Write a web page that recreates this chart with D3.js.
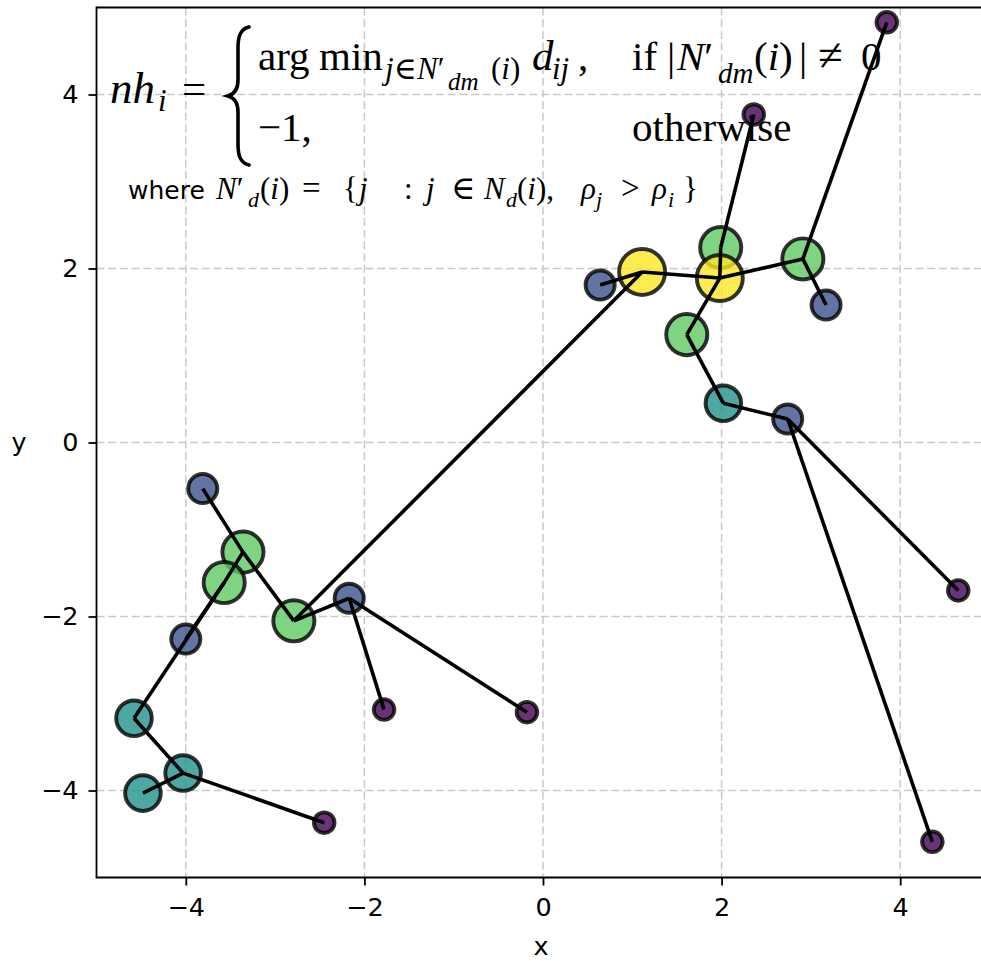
<!DOCTYPE html>
<html><head><meta charset="utf-8">
<script src="https://cdn.jsdelivr.net/npm/d3@7"></script>
<style>body{margin:0;background:#fff} svg{display:block}</style>
</head><body>
<script>
// ---- data ----
const pointX = [3.85, 2.36, 1.99, 1.98, 1.11, 0.64, 2.91, 3.17, 1.61, 2.02, 2.74, 4.65, 4.36,
                -3.81, -3.36, -3.57, -2.79, -2.17, -4.00, -4.58, -4.03, -4.48, -2.45, -1.78, -0.18];
const pointY = [4.83, 3.77, 2.24, 1.89, 1.96, 1.81, 2.11, 1.58, 1.24, 0.45, 0.27, -1.70, -4.59,
                -0.53, -1.26, -1.61, -2.05, -1.79, -2.26, -3.17, -3.80, -4.03, -4.37, -3.07, -3.10];
const density = [1, 1, 4, 5, 5, 2, 4, 2, 4, 3, 2, 1, 1, 2, 4, 4, 4, 2, 2, 3, 3, 3, 1, 1, 1];
// index of nearest higher-density neighbour (nh_i), -1 = none
const nearestHigher = [6, 2, 3, -1, 3, 4, 3, 6, 3, 8, 9, 10, 10, 14, 16, 14, 4, 16, 15, 15, 19, 20, 20, 17, 17];
const xTicks = [-4, -2, 0, 2, 4];
const yTicks = [-4, -2, 0, 2, 4];
const xLabel = "x", yLabel = "y";

// ---- layout ----
const W = 981, H = 961;
const svg = d3.select("body").append("svg").attr("width", W).attr("height", H);
const x = d3.scaleLinear().domain([-5, 5]).range([96.5, 989.5]);
const y = d3.scaleLinear().domain([-5, 5]).range([877.5, 7.5]);
const color = d3.scaleSequential(d3.interpolateViridis).domain([1, 5]);
const radius = d3.scaleSqrt().domain([0, 5]).range([0, 23]);
const fmt = d => d < 0 ? "\u2212" + Math.abs(d) : String(d);

// grid
const grid = svg.append("g").attr("stroke", "#c9c9c9").attr("stroke-width", 1.5)
  .attr("stroke-dasharray", "8,3.7");
grid.selectAll(".gx").data(xTicks).join("line")
  .attr("x1", d => x(d)).attr("x2", d => x(d)).attr("y1", y(5)).attr("y2", y(-5));
grid.selectAll(".gy").data(yTicks).join("line")
  .attr("y1", d => y(d)).attr("y2", d => y(d)).attr("x1", x(-5)).attr("x2", x(5));

// axes
const fontTick = "'DejaVu Sans', sans-serif";
const FT = 25.5;
const ax = svg.append("g").attr("transform", `translate(0,${y(-5)})`)
  .call(d3.axisBottom(x).tickValues(xTicks).tickFormat(fmt).tickSize(8).tickPadding(12));
const ay = svg.append("g").attr("transform", `translate(${x(-5)},0)`)
  .call(d3.axisLeft(y).tickValues(yTicks).tickFormat(fmt).tickSize(8).tickPadding(10));
[ax, ay].forEach(g => {
  g.select(".domain").remove();
  g.selectAll(".tick line").attr("stroke", "#000").attr("stroke-width", 1.8);
  g.selectAll(".tick text").attr("font-family", fontTick).attr("font-size", FT).attr("fill", "#000");
});

// points
svg.append("g").selectAll("circle").data(d3.range(pointX.length)).join("circle")
  .attr("cx", i => x(pointX[i])).attr("cy", i => y(pointY[i]))
  .attr("r", i => radius(density[i]))
  .attr("fill", i => color(density[i])).attr("fill-opacity", 0.8)
  .attr("stroke", "#000").attr("stroke-opacity", 0.8).attr("stroke-width", 3.9);

// links to nearest higher-density neighbour
svg.append("g").attr("stroke", "#000").attr("stroke-width", 3.6).attr("stroke-linecap", "butt")
  .selectAll("line").data(d3.range(pointX.length).filter(i => nearestHigher[i] >= 0)).join("line")
  .attr("x1", i => x(pointX[i])).attr("y1", i => y(pointY[i]))
  .attr("x2", i => x(pointX[nearestHigher[i]])).attr("y2", i => y(pointY[nearestHigher[i]]));

// spines
const sp = svg.append("g").attr("stroke", "#000").attr("stroke-width", 1.8).attr("fill", "none");
sp.append("line").attr("x1", x(-5)).attr("x2", x(-5)).attr("y1", y(5) - 0.9).attr("y2", y(-5) + 0.9);
sp.append("line").attr("x1", x(-5)).attr("x2", x(5)).attr("y1", y(-5)).attr("y2", y(-5));
sp.append("line").attr("x1", x(-5)).attr("x2", x(5)).attr("y1", y(5)).attr("y2", y(5));
sp.append("line").attr("x1", x(5)).attr("x2", x(5)).attr("y1", y(5)).attr("y2", y(-5));

// axis labels
svg.append("text").attr("x", (x(-5) + x(5)) / 2 - 2).attr("y", 955).attr("text-anchor", "middle")
  .attr("font-family", fontTick).attr("font-size", FT).text(xLabel);
svg.append("text").attr("x", 19).attr("y", 451).attr("text-anchor", "middle")
  .attr("font-family", fontTick).attr("font-size", FT).text(yLabel);

// ---- formula annotation ----
const MATH = "'Liberation Serif', 'DejaVu Serif', serif";
const ann = svg.append("g").attr("font-family", MATH).attr("fill", "#000");
function put(xp, yp, size, parts) {
  const t = ann.append("text").attr("x", xp).attr("y", yp).attr("font-size", size);
  parts.forEach(p => {
    const s = t.append("tspan").text(p[0]);
    if (p[1]) s.attr("font-style", "italic");
  });
  return t;
}
const T = 41, S = 31, SS = 25;
// left-hand side
put(110, 103, 45, [["nh", 1]]);
put(158, 111, S, [["i", 1]]);
put(182, 103, T + 2, [["=", 0]]);
// brace
ann.append("path")
  .attr("d", "M249,27 C240,29 238,37 238,48 L238,80 C238,89 235,94 228,96 C235,98 238,103 238,112 L238,144 C238,155 240,163 249,165")
  .attr("fill", "none").attr("stroke", "#000").attr("stroke-width", 3.6).attr("stroke-linecap", "round");
// row 1
put(258, 70, T, [["arg", 0]]);
put(319, 70, T, [["min", 0]]);
put(385, 79, S, [["j", 1]]);
put(394, 79, S, [["\u2208", 0]]);
put(417, 79, S, [["N", 1], ["\u2032", 0]]);
put(448, 90, SS, [["dm", 1]]);
put(491, 79, S, [["(", 0], ["i", 1], [")", 0]]);
put(532, 70, T + 2, [["d", 1]]);
put(552, 79, S, [["ij", 1]]);
put(578, 70, T, [[",", 0]]);
put(632, 70, T, [["if", 0]]);
put(667, 70, T, [["|", 0]]);
put(677, 70, T, [["N", 1], ["\u2032", 0]]);
put(718, 83, 29, [["dm", 1]]);
put(754, 70, T, [["(", 0], ["i", 1], [")", 0]]);
put(799, 70, T, [["|", 0]]);
put(818, 70, T + 4, [["\u2260", 0]]);
put(861, 70, T, [["0", 0]]);
// row 2
put(258, 141, T, [["\u22121,", 0]]);
put(632, 141, T, [["otherwise", 0]]);
// where line
svg.append("text").attr("x", 128).attr("y", 199).attr("font-family", "'DejaVu Sans', sans-serif")
  .attr("font-size", 25).text("where");
const M = 31, Ms = 22;
put(216, 199, M, [["N", 1], ["\u2032", 0]]);
put(248, 207, Ms, [["d", 1]]);
put(260, 199, M, [["(", 0], ["i", 1], [")", 0]]);
put(302, 199, M + 2, [["=", 0]]);
put(343, 199, M, [["{", 0]]);
put(359, 199, M, [["j", 1]]);
put(404, 199, M, [[":", 0]]);
put(426, 199, M, [["j", 1]]);
put(451, 199, M + 2, [["\u2208", 0]]);
put(484, 199, M, [["N", 1]]);
put(506, 207, Ms, [["d", 1]]);
put(517, 199, M, [["(", 0], ["i", 1], [")", 0], [",", 0]]);
put(581, 199, M, [["\u03c1", 1]]);
put(596, 207, Ms, [["j", 1]]);
put(621, 199, M + 2, [[">", 0]]);
put(652, 199, M, [["\u03c1", 1]]);
put(668, 207, Ms, [["i", 1]]);
put(683, 199, M, [["}", 0]]);
</script>
</body></html>
